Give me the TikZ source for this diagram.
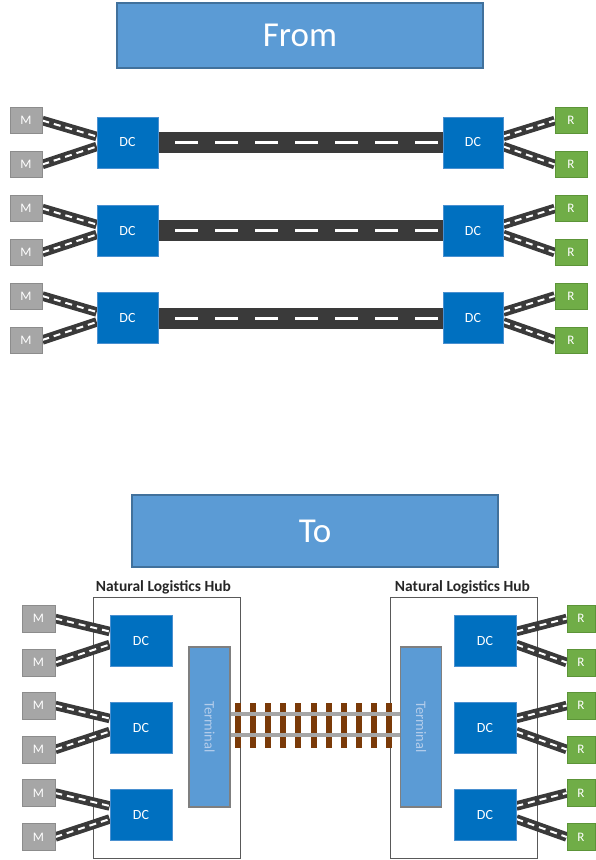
\documentclass[tikz,border=0pt]{standalone}
\usepackage{fontspec}
\setmainfont{Carlito}
\usetikzlibrary{backgrounds,calc}
\definecolor{hdrfill}{HTML}{5B9BD5}
\definecolor{hdrdraw}{HTML}{41719C}
\definecolor{dcfill}{HTML}{0070C0}
\definecolor{dcdraw}{HTML}{4A90D0}
\definecolor{mfill}{HTML}{A6A6A6}
\definecolor{mdraw}{HTML}{8C8C8C}
\definecolor{rfill}{HTML}{70AD47}
\definecolor{rdraw}{HTML}{5C9438}
\definecolor{roadc}{HTML}{3A3A3A}
\definecolor{railc}{HTML}{A6A6A6}
\definecolor{tiec}{HTML}{7A3A08}
\definecolor{termtext}{HTML}{B4CDEB}
\definecolor{termdraw}{HTML}{7F7F7F}
\definecolor{hubc}{HTML}{595959}
\begin{document}
\begin{tikzpicture}[x=1pt,y=-1pt,
  hdr/.style={rectangle, fill=hdrfill, draw=hdrdraw, line width=2pt, minimum width=366pt, text=white, font=\fontsize{35}{40}\selectfont, inner sep=0pt},
  dcbox/.style={rectangle, fill=dcfill, draw=dcdraw, line width=0.6pt, minimum width=61pt, minimum height=51pt, text=white, font=\fontsize{14}{16}\selectfont, inner sep=0pt},
  mbox/.style={rectangle, fill=mfill, draw=mdraw, line width=0.6pt, minimum width=32pt, minimum height=26pt, text=white, font=\fontsize{13}{15}\selectfont, inner sep=0pt},
  rbox/.style={rectangle, fill=rfill, draw=rdraw, line width=0.6pt, minimum width=32pt, minimum height=26pt, text=white, font=\fontsize{13}{15}\selectfont, inner sep=0pt},
  term/.style={rectangle, fill=hdrfill, draw=termdraw, line width=1.2pt, minimum width=41pt, minimum height=160pt, inner sep=0pt},
  termlabel/.style={text=termtext, font=\fontsize{14.5}{16}\selectfont, rotate=-90, inner sep=0pt},
  hub/.style={rectangle, draw=hubc, line width=1pt, minimum width=147pt, minimum height=261pt, inner sep=0pt},
  hublabel/.style={font=\bfseries\fontsize{15.5}{17}\selectfont, text=black!85, inner sep=1pt},
  mainroad/.style={draw=roadc, line width=21pt, postaction={draw=white, line width=3pt, dash pattern=on 23pt off 17pt, dash phase=23pt}},
  smallroad/.style={draw=roadc, line width=9.5pt, postaction={draw=white, line width=2pt, dash pattern=on 7pt off 5pt}},
  rail/.style={draw=railc, line width=4pt},
  tie/.style={fill=tiec, draw=none},
]
\useasboundingbox (0,0) rectangle (595,860);

% ---------- From ----------
\node[hdr, minimum height=65pt] (from) at (300,35.5) {From};

\foreach \i/\y in {1/142.5, 2/230.5, 3/318} {
  \node[dcbox] (dcA\i) at (127.5,\y) {DC};
  \node[dcbox, minimum width=60pt] (dcB\i) at (473,\y) {DC};
  \node[mbox] (mA\i) at (26,\y-22) {M};
  \node[mbox] (mB\i) at (26,\y+22) {M};
  \node[rbox] (rA\i) at (571,\y-22) {R};
  \node[rbox] (rB\i) at (571,\y+22) {R};
  \begin{scope}[on background layer]
    \draw[mainroad] (dcA\i.east) -- (dcB\i.west);
    \draw[smallroad] (mA\i.east) -- ($(dcA\i.west)+(0,-6)$);
    \draw[smallroad] (mB\i.east) -- ($(dcA\i.west)+(0,4)$);
    \draw[smallroad] ($(dcB\i.east)+(0,-6)$) -- (rA\i.west);
    \draw[smallroad] ($(dcB\i.east)+(0,4)$) -- (rB\i.west);
  \end{scope}
}

% ---------- To ----------
\node[hdr, minimum height=72pt] (to) at (315,531) {To};

\begin{scope}[on background layer]
  \node[hub] (hubL) at (166.5,727.5) {};
  \node[hub] (hubR) at (463.5,727.5) {};
\end{scope}
\node[hublabel, anchor=south] (hubLlab) at ($(hubL.north)+(-3,-1)$) {Natural Logistics Hub};
\node[hublabel, anchor=south] (hubRlab) at ($(hubR.north)+(-1,-1)$) {Natural Logistics Hub};

\node[term] (termL) at (209.5,727) {};
\node[termlabel] (termLlab) at (termL.center) {Terminal};
\node[term] (termR) at (421,727) {};
\node[termlabel] (termRlab) at (termR.center) {Terminal};

% railway
\foreach \k in {0,...,10} {
  \fill[tie] (235+15.1*\k,703) rectangle (241+15.1*\k,748);
}
\draw[rail] ($(termL.east)+(0,-13)$) -- ($(termR.west)+(0,-13)$);
\draw[rail] ($(termL.east)+(0,8)$) -- ($(termR.west)+(0,8)$);

\foreach \i/\y in {1/640.5, 2/727.5, 3/815} {
  \node[dcbox, minimum width=62pt] (dcC\i) at (141,\y) {DC};
  \node[dcbox, minimum width=62pt] (dcD\i) at (485,\y) {DC};
  \node[mbox, minimum width=33pt, minimum height=27pt] (mC\i) at (38.5,\y-22) {M};
  \node[mbox, minimum width=33pt, minimum height=27pt] (mD\i) at (38.5,\y+22) {M};
  \node[rbox, minimum width=28pt, minimum height=27pt] (rC\i) at (581,\y-22) {R};
  \node[rbox, minimum width=28pt, minimum height=27pt] (rD\i) at (581,\y+22) {R};
  \begin{scope}[on background layer]
    \draw[smallroad] (mC\i.east) -- ($(dcC\i.west)+(0,-9)$);
    \draw[smallroad] (mD\i.east) -- ($(dcC\i.west)+(0,4)$);
    \draw[smallroad] ($(dcD\i.east)+(0,-9)$) -- (rC\i.west);
    \draw[smallroad] ($(dcD\i.east)+(0,4)$) -- (rD\i.west);
  \end{scope}
}
\end{tikzpicture}
\end{document}
